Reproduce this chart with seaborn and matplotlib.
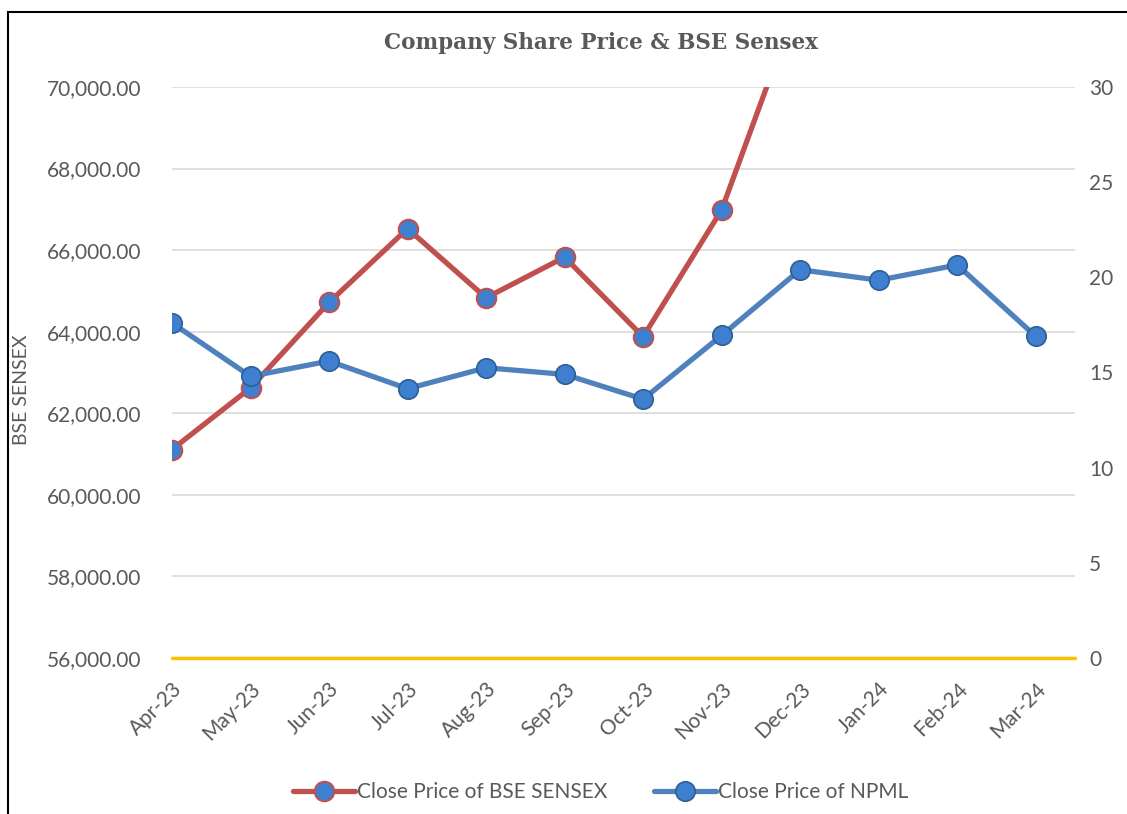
import matplotlib
matplotlib.use("Agg")
import matplotlib.pyplot as plt
import matplotlib.patches as patches
import matplotlib.transforms as mtransforms
from matplotlib.ticker import FuncFormatter, MultipleLocator
import seaborn as sns
import pandas as pd

months = ["Apr-23", "May-23", "Jun-23", "Jul-23", "Aug-23", "Sep-23",
          "Oct-23", "Nov-23", "Dec-23", "Jan-24", "Feb-24", "Mar-24"]
bse_close = [61112, 62622, 64719, 66528, 64831, 65828,
             63875, 66988, 72240, 71752, 72500, 73651]
npml_close = [17.6, 14.8, 15.6, 14.15, 15.25, 14.9,
              13.6, 16.95, 20.4, 19.85, 20.65, 16.9]

df = pd.DataFrame({"pos": range(len(months)), "month": months,
                   "bse": bse_close, "npml": npml_close})

sns.set_style("white")
plt.rcParams["font.family"] = ["Lato", "DejaVu Sans"]

red = "#c0504d"
blue = "#4f81bd"
sphere = "#3f7fcf"
txt = "#595959"

fig = plt.figure(figsize=(11.27, 8.14), dpi=100)
ax = fig.add_axes([172/1127, 1-658/814, (1075-172)/1127, (658-87)/814])
ax2 = ax.twinx()

sns.lineplot(data=df, x="pos", y="bse", ax=ax, color=red, linewidth=3.8,
             marker="o", markersize=14, markerfacecolor=sphere,
             markeredgecolor=red, markeredgewidth=1.5,
             label="Close Price of BSE SENSEX", legend=False)
sns.lineplot(data=df, x="pos", y="npml", ax=ax2, color=blue, linewidth=3.8,
             marker="o", markersize=14, markerfacecolor=sphere,
             markeredgecolor="#2f5f95", markeredgewidth=1.2,
             label="Close Price of NPML", legend=False)

ax.set_xlim(0, 11.5)
ax.set_ylim(56000, 70000)
ax2.set_ylim(0, 30)
ax.yaxis.set_major_locator(MultipleLocator(2000))
ax2.yaxis.set_major_locator(MultipleLocator(5))
ax.yaxis.set_major_formatter(FuncFormatter(lambda v, p: f"{v:,.2f}"))

ax.set_xticks(range(len(months)))
ax.set_xticklabels(months, rotation=45, ha="right", rotation_mode="anchor")
shift = mtransforms.ScaledTranslation(-6/100, 0, fig.dpi_scale_trans)
for lbl in ax.get_xticklabels():
    lbl.set_transform(lbl.get_transform() + shift)
ax.set_xlabel("")
ax.set_ylabel("BSE SENSEX", fontsize=14, color=txt)
ax.yaxis.set_label_coords(-0.157, 0.47)
ax2.set_ylabel("")

ax.grid(axis="y", color="#d9d9d9", linewidth=1.2)
ax.set_axisbelow(True)
for a in (ax, ax2):
    for s in a.spines.values():
        s.set_visible(False)
    a.tick_params(length=0, labelsize=15, labelcolor=txt)
ax.tick_params(axis="y", pad=22)
ax.tick_params(axis="x", pad=15)
ax2.tick_params(axis="y", pad=10)
ax.axhline(56000, color="#ffc000", linewidth=2.5, zorder=3, clip_on=False)

fig.text(0.533, 1-43/814, "Company Share Price & BSE Sensex", ha="center",
         va="center", fontsize=15.5, fontweight="bold", color=txt,
         family=["DejaVu Serif"])

h1, l1 = ax.get_legend_handles_labels()
h2, l2 = ax2.get_legend_handles_labels()
fig.legend(h1 + h2, l1 + l2, loc="center", bbox_to_anchor=(0.533, 1-792/814),
           ncol=2, frameon=False, fontsize=15, labelcolor=txt,
           handlelength=3, handletextpad=0.1, columnspacing=2.2)

fig.patches.append(patches.Rectangle((8/1127, -0.05), 1.2, 1-12/814 + 0.05,
                                     transform=fig.transFigure, fill=False,
                                     edgecolor="black", linewidth=1.5))

fig.savefig("out.png", dpi=100)
